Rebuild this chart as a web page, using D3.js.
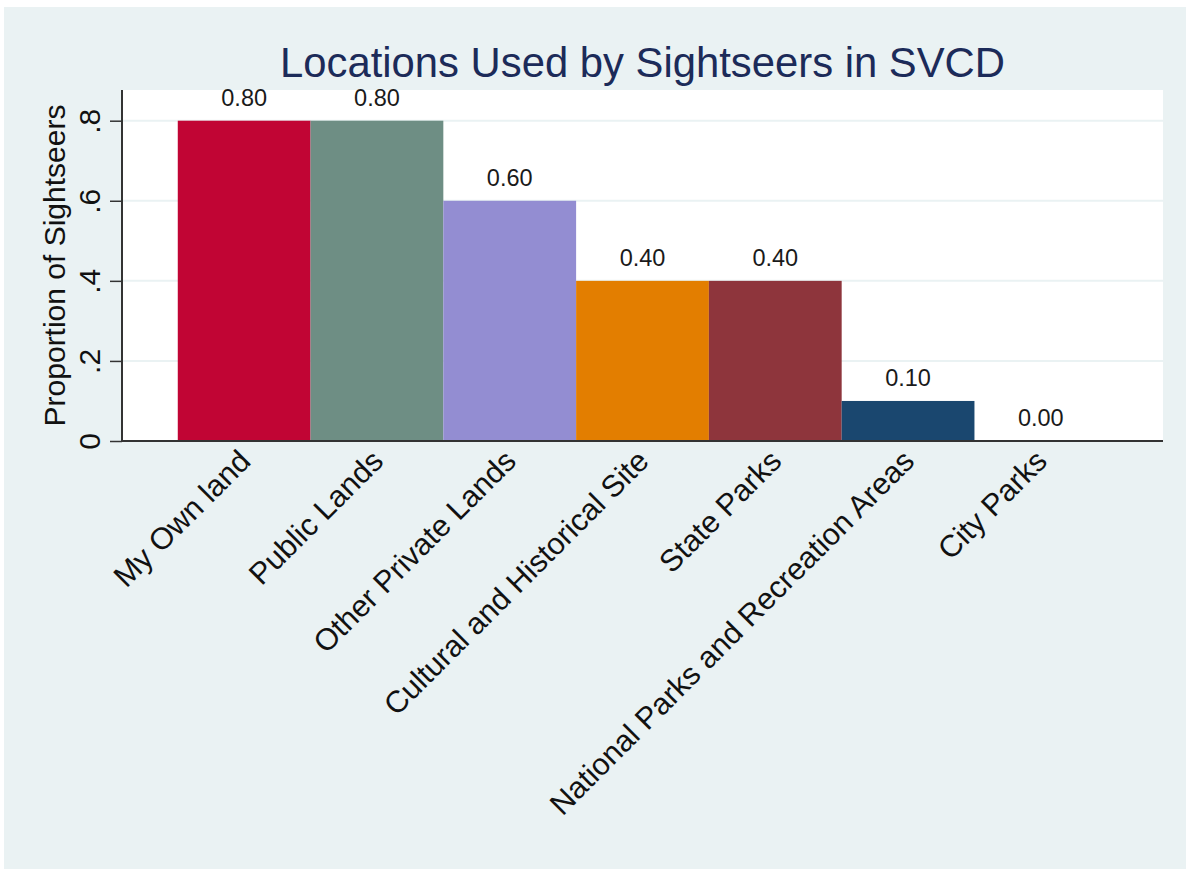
<!DOCTYPE html>
<html>
<head>
<meta charset="utf-8">
<script src="https://cdn.jsdelivr.net/npm/d3@7"></script>
<style>
  html, body { margin: 0; padding: 0; background: #ffffff; }
  svg { display: block; font-family: "Liberation Sans", Arial, sans-serif; }
</style>
</head>
<body>
<svg id="chart" width="1186" height="869"></svg>
<script>
// Location categories and the share of sightseers using each
const categories = [
  "My Own land",
  "Public Lands",
  "Other Private Lands",
  "Cultural and Historical Site",
  "State Parks",
  "National Parks and Recreation Areas",
  "City Parks"
];
const proportions = [0.80, 0.80, 0.60, 0.40, 0.40, 0.10, 0.00];
const barColors = ["#C10534", "#6E8E84", "#938DD2", "#E37E00", "#8E353C", "#1A476F", "#D1C88A"];
const yTicks = [0, 0.2, 0.4, 0.6, 0.8];
const yTickLabels = ["0", ".2", ".4", ".6", ".8"];

const svg = d3.select("#chart");
const W = 1186, H = 869;

// Outer graph region
svg.append("rect")
  .attr("x", 4).attr("y", 7)
  .attr("width", W - 4).attr("height", H - 7)
  .attr("fill", "#EAF2F3");

const plot = { left: 122, right: 1163, top: 90, bottom: 441 };

const x = d3.scaleBand()
  .domain(categories)
  .range([plot.left, plot.right])
  .paddingInner(0)
  .paddingOuter(0.42);

const y = d3.scaleLinear()
  .domain([0, 0.8])
  .range([plot.bottom, 120.7]);

// Plot region
svg.append("rect")
  .attr("x", plot.left).attr("y", plot.top)
  .attr("width", plot.right - plot.left)
  .attr("height", plot.bottom - plot.top)
  .attr("fill", "#ffffff");

// Horizontal grid lines
svg.append("g")
  .selectAll("line")
  .data(yTicks.filter(d => d > 0))
  .join("line")
  .attr("x1", plot.left).attr("x2", plot.right)
  .attr("y1", d => y(d)).attr("y2", d => y(d))
  .attr("stroke", "#EAF2F3")
  .attr("stroke-width", 2);

// Bars
svg.append("g")
  .selectAll("rect")
  .data(categories)
  .join("rect")
  .attr("x", d => x(d))
  .attr("width", x.bandwidth())
  .attr("y", (d, i) => y(proportions[i]))
  .attr("height", (d, i) => y(0) - y(proportions[i]))
  .attr("fill", (d, i) => barColors[i]);

// Value labels above the bars
svg.append("g")
  .selectAll("text")
  .data(categories)
  .join("text")
  .attr("x", d => x(d) + x.bandwidth() / 2)
  .attr("y", (d, i) => y(proportions[i]) - 15)
  .attr("text-anchor", "middle")
  .attr("font-size", 23.5)
  .attr("fill", "#1a1a1a")
  .text((d, i) => proportions[i].toFixed(2));

// Y axis
const yAxis = d3.axisLeft(y)
  .tickValues(yTicks)
  .tickFormat((d, i) => yTickLabels[i])
  .tickSize(12)
  .tickPadding(0);

const gy = svg.append("g")
  .attr("transform", `translate(${plot.left},0)`)
  .call(yAxis);
gy.select(".domain")
  .attr("d", `M0,${plot.top}V${plot.bottom}`)
  .attr("stroke", "#333333")
  .attr("stroke-width", 2);
gy.selectAll(".tick line").attr("stroke", "#333333").attr("stroke-width", 1.5);
gy.selectAll(".tick text")
  .attr("font-size", 30)
  .attr("fill", "#111111")
  .attr("font-family", "Liberation Sans, Arial, sans-serif")
  .attr("text-anchor", "middle")
  .attr("dy", null)
  .attr("x", null)
  .attr("transform", "translate(-22,0) rotate(-90)")
  .attr("y", 0);

// X axis
const xAxis = d3.axisBottom(x).tickSize(0).tickPadding(0);
const gx = svg.append("g")
  .attr("transform", `translate(0,${plot.bottom})`)
  .call(xAxis);
gx.select(".domain")
  .attr("d", `M${plot.left},0H${plot.right}`)
  .attr("stroke", "#333333")
  .attr("stroke-width", 2);
gx.selectAll(".tick text")
  .attr("font-size", 30.5)
  .attr("fill", "#111111")
  .attr("font-family", "Liberation Sans, Arial, sans-serif")
  .attr("text-anchor", "end")
  .attr("dy", null)
  .attr("y", 0)
  .attr("transform", "translate(8,22) rotate(-45)");

// Y axis title
svg.append("text")
  .attr("transform", `translate(65,${(plot.top + plot.bottom) / 2}) rotate(-90)`)
  .attr("text-anchor", "middle")
  .attr("font-size", 30)
  .attr("fill", "#111111")
  .text("Proportion of Sightseers");

// Chart title
svg.append("text")
  .attr("x", (plot.left + plot.right) / 2)
  .attr("y", 77)
  .attr("text-anchor", "middle")
  .attr("font-size", 41.8)
  .attr("fill", "#1C2B59")
  .text("Locations Used by Sightseers in SVCD");
</script>
</body>
</html>
